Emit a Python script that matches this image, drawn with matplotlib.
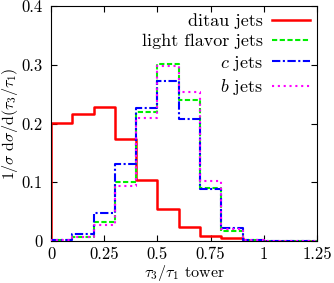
import numpy as np
import matplotlib
matplotlib.use('Agg')
import matplotlib.pyplot as plt

plt.rcParams['font.family'] = 'serif'
plt.rcParams['font.serif'] = ['cmr10', 'DejaVu Serif']
plt.rcParams['mathtext.fontset'] = 'cm'
plt.rcParams['axes.unicode_minus'] = False

# bin edges, tau3/tau1
edges = [0.0, 0.1, 0.2, 0.3, 0.4, 0.5, 0.6, 0.7, 0.8, 0.9, 1.0, 1.1, 1.2, 1.25]

ditau = [0.201, 0.217, 0.228, 0.174, 0.104, 0.054, 0.024, 0.009, 0.0045, 0.001, 0.0, 0.0, 0.0]
light = [0.002, 0.007, 0.033, 0.100, 0.220, 0.302, 0.240, 0.091, 0.017, 0.002, 0.001, 0.001, 0.001]
cjets = [0.002, 0.012, 0.047, 0.131, 0.227, 0.272, 0.208, 0.089, 0.022, 0.002, 0.001, 0.001, 0.001]
bjets = [0.002, 0.007, 0.028, 0.094, 0.209, 0.298, 0.253, 0.103, 0.020, 0.002, 0.001, 0.001, 0.001]

xticks = [0, 0.25, 0.5, 0.75, 1, 1.25]
xticklabels = ['0', '0.25', '0.5', '0.75', '1', '1.25']
yticks = [0, 0.1, 0.2, 0.3, 0.4]
yticklabels = ['0', '0.1', '0.2', '0.3', '0.4']

fs = 12

fig = plt.figure(figsize=(3.34, 2.83), dpi=100)
ax = fig.add_axes([0.153, 0.148, 0.796, 0.831])


def step(ax, vals, **kw):
    x = np.array(edges)
    y = np.concatenate([[0.0], vals, [vals[-1]]])
    xx = np.concatenate([[x[0]], x])
    return ax.step(xx, y, where='post', **kw)


step(ax, ditau, color='#ff0000', lw=1.8, ls='-', label='ditau jets', zorder=2)
step(ax, light, color='#00ee00', lw=1.5, ls=(0, (2.5, 1.2)), label='light flavor jets', zorder=3)
step(ax, cjets, color='#0000ff', lw=1.5, ls=(0, (4, 1.2, 1, 1.2)), label='$c$ jets', zorder=4)
step(ax, bjets, color='#ff00ff', lw=1.5, ls=(0, (1, 1.8)), label='$b$ jets', zorder=5)

ax.set_xlim(0, 1.25)
ax.set_ylim(0, 0.4)
ax.set_xticks(xticks)
ax.set_xticklabels(xticklabels)
ax.set_yticks(yticks)
ax.set_yticklabels(yticklabels)
ax.tick_params(direction='in', top=True, right=True, labelsize=fs, length=4)
ax.tick_params(axis='x', pad=4)
ax.tick_params(axis='y', pad=6)
for s in ax.spines.values():
    s.set_linewidth(0.8)

ax.set_xlabel(r'$\tau_3/\tau_1$ tower', fontsize=11.5, va='center')
ax.set_ylabel(r'$1/\sigma\ \mathrm{d}\sigma/\mathrm{d}(\tau_3/\tau_1)$', fontsize=11.5, va='center')
ax.xaxis.set_label_coords(0.5, -0.134)
ax.yaxis.set_label_coords(-0.155, 0.5)

leg = ax.legend(loc='upper right', frameon=False, markerfirst=False, fontsize=13,
                handlelength=2.1, labelspacing=0.25, borderaxespad=0.1, borderpad=0.3,
                handletextpad=0.5)
for t in leg.get_texts():
    t.set_ha('right')

fig.savefig('out.png', dpi=100)
